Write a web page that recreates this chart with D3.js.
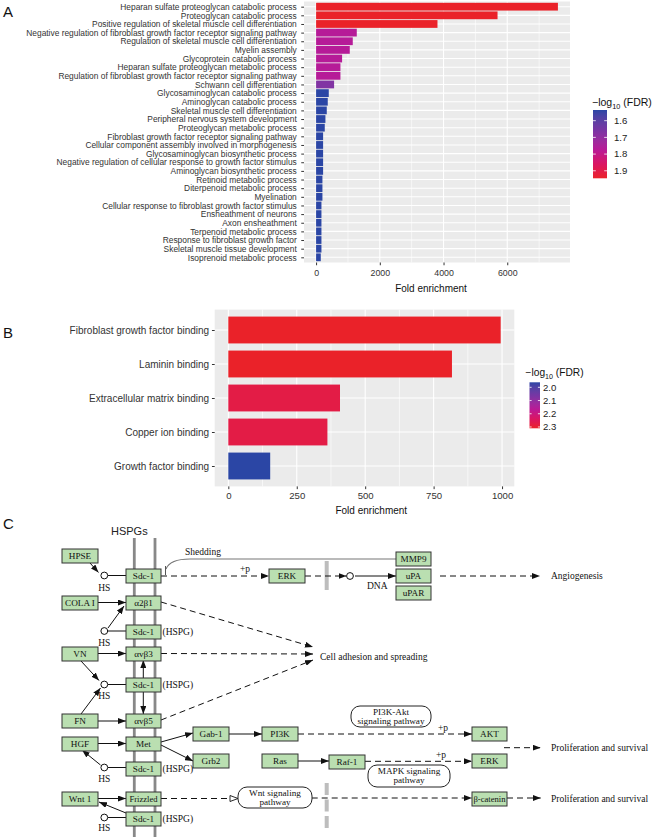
<!DOCTYPE html>
<html><head><meta charset="utf-8">
<script src="https://cdn.jsdelivr.net/npm/d3@7"></script>
<style>body{margin:0;background:#fff}svg{display:block}</style>
</head><body>
<svg id="fig" width="656" height="837"></svg>
<script>
// ---------------- DATA ----------------
const termsA = [
 "Heparan sulfate proteoglycan catabolic process",
 "Proteoglycan catabolic process",
 "Positive regulation of skeletal muscle cell differentiation",
 "Negative regulation of fibroblast growth factor receptor signaling pathway",
 "Regulation of skeletal muscle cell differentiation",
 "Myelin assembly",
 "Glycoprotein catabolic process",
 "Heparan sulfate proteoglycan metabolic process",
 "Regulation of fibroblast growth factor receptor signaling pathway",
 "Schwann cell differentiation",
 "Glycosaminoglycan catabolic process",
 "Aminoglycan catabolic process",
 "Skeletal muscle cell differentiation",
 "Peripheral nervous system development",
 "Proteoglycan metabolic process",
 "Fibroblast growth factor receptor signaling pathway",
 "Cellular component assembly involved in morphogenesis",
 "Glycosaminoglycan biosynthetic process",
 "Negative regulation of cellular response to growth factor stimulus",
 "Aminoglycan biosynthetic process",
 "Retinoid metabolic process",
 "Diterpenoid metabolic process",
 "Myelination",
 "Cellular response to fibroblast growth factor stimulus",
 "Ensheathment of neurons",
 "Axon ensheathment",
 "Terpenoid metabolic process",
 "Response to fibroblast growth factor",
 "Skeletal muscle tissue development",
 "Isoprenoid metabolic process"
];
const foldA = [7590, 5695, 3810, 1277, 1151, 1057, 816, 764, 764, 565,
               398, 366, 335, 293, 272, 220, 220, 220, 220, 220,
               199, 199, 199, 168, 168, 168, 168, 168, 168, 147];
const fdrA = [1.945, 1.945, 1.945, 1.77, 1.77, 1.77, 1.77, 1.77, 1.77, 1.67,
              1.536, 1.536, 1.536, 1.536, 1.536, 1.536, 1.536, 1.536, 1.536, 1.536,
              1.536, 1.536, 1.536, 1.536, 1.536, 1.536, 1.536, 1.536, 1.536, 1.536];
const ticksA = [0, 2000, 4000, 6000];
const minorA = [1000, 3000, 5000, 7000];
const legendTicksA = [1.6, 1.7, 1.8, 1.9];
const fdrRangeA = [1.536, 1.945];

const termsB = ["Fibroblast growth factor binding", "Laminin binding", "Extracellular matrix binding", "Copper ion binding", "Growth factor binding"];
const foldB = [995, 817, 408, 362, 153];
const fdrB = [2.31, 2.31, 2.275, 2.275, 1.962];
const ticksB = [0, 250, 500, 750, 1000];
const minorB = [125, 375, 625, 875];
const legendTicksB = [2.0, 2.1, 2.2, 2.3];
const fdrRangeB = [1.962, 2.31];

// colour ramp stops (blue -> purple -> magenta -> crimson -> red), fraction of legend range
const rampT = [0, 0.3, 0.58, 0.8, 1];
const rampColors = ["#2B46A5", "#7A35A4", "#B81A98", "#DB1560", "#EA2229"];

// ---------------- PATHWAY LAYOUT (panel C) ----------------
const genes = [
 ["HPSE",62,549,36], ["Sdc-1",126,569,35], ["ERK",269,569,36], ["MMP9",396,552,35], ["uPA",396,569,35], ["uPAR",396,586,35],
 ["COLA I",62,596,36], ["α2β1",126,596,35], ["Sdc-1",126,625,35], ["VN",62,647,36], ["αvβ3",126,647,35], ["Sdc-1",126,678,35],
 ["FN",62,714,36], ["αvβ5",126,714,35], ["HGF",62,737,36], ["Met",126,737,35], ["Gab-1",193,727,36], ["PI3K",262,727,36],
 ["Grb2",193,754,36], ["Ras",262,754,36], ["Raf-1",329,755,36], ["AKT",472,727,35], ["ERK",472,754,35], ["Sdc-1",126,762,35],
 ["Wnt 1",62,792,36], ["Frizzled",126,792,35], ["β-catenin",472,792,35], ["Sdc-1",126,812,35]
];
const hspgLabels = [632, 685, 769, 819];
const hsCircles = [[104.3,575.5,587.5],[104.3,631,643],[104.3,684.5,696],[104.3,767.5,779],[104.3,817.5,828]];
const solidArrows = [
 [90,563,98.5,572.5],[98,602.5,126,602.5],[108,628,124,606],[98,653.5,126,653.5],[81,661,99,680.5],
 [143.3,678,143.3,660],[143.3,692,143.3,714],[81,714,100.5,688],[98,721,126,721],[98,743.5,126,743.5],
 [100.5,765,82,750],[161,742,193,733],[161,745,193,761],[229,734,262,734],[298,761,329,761],
 [98,798.5,126,798.5],[126,813,99,802],[355,576,396,576]
];
const dashedArrows = [
 [161,576,269,576],[305,576,346.5,576],[440,576,540,576],[161,602,313,647],[161,653.5,313,654],
 [161,720,313,660],[298,734,472,734],[365,761.3,472,761.3],[504,747.7,540.7,747.7],
 [311.7,798,472,798],[507,798,540.7,798]
];
const plainLines = [[107.6,575.5,126,575.5],[107.6,631,126,631],[107.6,684.5,126,684.5],[107.6,767.5,126,767.5],[107.6,817.5,126,817.5]];
const pathwayMaps = [
 [351,706,80,21,["PI3K-Akt","signaling pathway"]],
 [368,765,82,22,["MAPK signaling","pathway"]],
 [238,787,74,21,["Wnt signaling","pathway"]]
];
const freeTexts = [
 ["+p",245,572],["+p",443,731],["+p",441,758],["DNA",367,589],["Angiogenesis",551,579],
 ["Cell adhesion and spreading",320,659.5],["Proliferation and survival",551,751],["Proliferation and survival",551,801.5],
 ["Shedding",185,555]
];

// ---------------- DRAW ----------------
const svg = d3.select("#fig");
const SANS = "'Liberation Sans', Arial, Helvetica, sans-serif";
const SERIF = "'Liberation Serif', 'Times New Roman', serif";
svg.append("rect").attr("width",656).attr("height",837).attr("fill","#fff");

[["A",3,17],["B",3,338],["C",3,529]].forEach(([t,x,y])=>{
  svg.append("text").attr("x",x).attr("y",y).text(t).attr("font-family",SANS).attr("font-size",15).attr("fill","#111");
});

function makeColor(range){
  return d3.scaleLinear().domain(rampT.map(t=>range[0]+t*(range[1]-range[0]))).range(rampColors)
    .interpolate(d3.interpolateLab).clamp(true);
}

function barPanel(cfg){
  const g = svg.append("g");
  const {terms, fold, fdr, xr, yr, ticks, minor, maxV, color, labelSize, tickSize, barFrac, xTickPad, titleY} = cfg;
  const x = d3.scaleLinear().domain([-0.05*maxV, 1.05*maxV]).range(xr);
  const y = d3.scalePoint().domain(terms).range(yr).padding(0.6);
  const step = y.step();
  g.append("rect").attr("x",xr[0]).attr("y",yr[0]).attr("width",xr[1]-xr[0]).attr("height",yr[1]-yr[0]).attr("fill","#EBEBEB");
  g.selectAll(".mn").data(minor).join("line").attr("x1",d=>x(d)).attr("x2",d=>x(d)).attr("y1",yr[0]).attr("y2",yr[1]).attr("stroke","#fff").attr("stroke-width",0.6);
  g.selectAll(".mj").data(ticks).join("line").attr("x1",d=>x(d)).attr("x2",d=>x(d)).attr("y1",yr[0]).attr("y2",yr[1]).attr("stroke","#fff").attr("stroke-width",1.1);
  g.selectAll(".hg").data(terms).join("line").attr("x1",xr[0]).attr("x2",xr[1]).attr("y1",d=>y(d)).attr("y2",d=>y(d)).attr("stroke","#fff").attr("stroke-width",1.1);
  const bh = step*barFrac;
  g.selectAll(".bar").data(terms).join("rect")
    .attr("x",x(0)).attr("y",d=>y(d)-bh/2).attr("height",bh)
    .attr("width",(d,i)=>x(fold[i])-x(0)).attr("fill",(d,i)=>color(fdr[i]));
  const ax = g.append("g").attr("transform",`translate(${xr[0]},0)`)
    .call(d3.axisLeft(y).tickSize(2.75).tickPadding(cfg.yTickPad));
  ax.select(".domain").remove();
  ax.selectAll("line").attr("stroke","#333");
  ax.selectAll("text").attr("font-family",SANS).attr("font-size",labelSize).attr("fill","#333");
  const bx = g.append("g").attr("transform",`translate(0,${yr[1]})`)
    .call(d3.axisBottom(x).tickValues(ticks).tickSize(2.75).tickPadding(xTickPad).tickFormat(d3.format("d")));
  bx.select(".domain").remove();
  bx.selectAll("line").attr("stroke","#333");
  bx.selectAll("text").attr("font-family",SANS).attr("font-size",tickSize).attr("fill","#333");
  g.append("text").attr("x",(x(0)+xr[1])/2 + cfg.titleDx).attr("y",titleY).attr("text-anchor","middle")
    .attr("font-family",SANS).attr("font-size",10).attr("fill","#111").text("Fold enrichment");
}

function legend(cfg){
  const {id, range, ticks, x0, w, y0, y1, color, titleX, titleY, labX, fs} = cfg;
  const defs = svg.append("defs");
  const grad = defs.append("linearGradient").attr("id",id).attr("x1",0).attr("x2",0).attr("y1",0).attr("y2",1);
  d3.range(0,1.0001,0.05).forEach(t=>{
    grad.append("stop").attr("offset",t).attr("stop-color",color(range[0]+t*(range[1]-range[0])));
  });
  const ly = d3.scaleLinear().domain(range).range([y0,y1]);
  svg.append("rect").attr("x",x0).attr("y",y0).attr("width",w).attr("height",y1-y0).attr("fill",`url(#${id})`);
  ticks.forEach(t=>{
    svg.append("line").attr("x1",x0).attr("x2",x0+w*0.2).attr("y1",ly(t)).attr("y2",ly(t)).attr("stroke","#fff").attr("stroke-width",0.8);
    svg.append("line").attr("x1",x0+w*0.8).attr("x2",x0+w).attr("y1",ly(t)).attr("y2",ly(t)).attr("stroke","#fff").attr("stroke-width",0.8);
    svg.append("text").attr("x",labX).attr("y",ly(t)+3.4).attr("font-family",SANS).attr("font-size",fs).attr("fill","#222").text(t.toFixed(1));
  });
  const tt = svg.append("text").attr("x",titleX).attr("y",titleY).attr("font-family",SANS).attr("font-size",cfg.tfs).attr("fill","#111");
  tt.append("tspan").text("\u2212log");
  tt.append("tspan").attr("font-size",cfg.tfs*0.7).attr("dy",2.5).text("10");
  tt.append("tspan").attr("dy",-2.5).text(" (FDR)");
}

const colorA = makeColor(fdrRangeA);
const colorB = makeColor(fdrRangeB);

barPanel({terms:termsA, fold:foldA, fdr:fdrA, xr:[304,570], yr:[1.5,262.5], ticks:ticksA, minor:minorA,
  maxV:d3.max(foldA), color:colorA, labelSize:8.4, tickSize:8.8, barFrac:0.9, xTickPad:5, yTickPad:4.5, titleY:291.5, titleDx:-12});
legend({id:"gA", range:fdrRangeA, ticks:legendTicksA, x0:593, w:14, y0:110, y1:178.3, color:colorA, titleX:592, titleY:106, labX:614, fs:9.6, tfs:10.5});

barPanel({terms:termsB, fold:foldB, fdr:fdrB, xr:[214.7,514.3], yr:[309.6,486.4], ticks:ticksB, minor:minorB,
  maxV:d3.max(foldB), color:colorB, labelSize:10, tickSize:9.6, barFrac:0.79, xTickPad:3.5, yTickPad:2.8, titleY:513.6, titleDx:0});
legend({id:"gB", range:fdrRangeB, ticks:legendTicksB, x0:529.5, w:10.5, y0:382.3, y1:428.3, color:colorB, titleX:525.5, titleY:376, labX:543, fs:9.6, tfs:10.2});

// ---------------- PANEL C ----------------
const C = svg.append("g");
const defs = svg.append("defs");
defs.append("marker").attr("id","ah").attr("viewBox","0 0 8 6").attr("refX",8).attr("refY",3)
  .attr("markerWidth",8).attr("markerHeight",6).attr("markerUnits","userSpaceOnUse").attr("orient","auto")
  .append("path").attr("d","M0,0 L8,3 L0,6 Z").attr("fill","#111");
defs.append("marker").attr("id","ahOpen").attr("viewBox","-1 -1 10 8").attr("refX",8).attr("refY",3)
  .attr("markerWidth",10).attr("markerHeight",8).attr("markerUnits","userSpaceOnUse").attr("orient","auto")
  .append("path").attr("d","M0,0 L8,3 L0,6 Z").attr("fill","#fff").attr("stroke","#111").attr("stroke-width",0.9);

C.append("text").attr("x",111).attr("y",535).attr("font-family",SANS).attr("font-size",11).attr("fill","#222").text("HSPGs");
[134.3,155].forEach(xx=>C.append("line").attr("x1",xx).attr("x2",xx).attr("y1",538).attr("y2",837).attr("stroke","#888").attr("stroke-width",2.8));

C.append("line").attr("x1",326.7).attr("x2",326.7).attr("y1",561).attr("y2",590).attr("stroke","#BDBDBD").attr("stroke-width",4);
C.append("line").attr("x1",326.7).attr("x2",326.7).attr("y1",783).attr("y2",829).attr("stroke","#BDBDBD").attr("stroke-width",4).attr("stroke-dasharray","12,4.5");

C.append("path").attr("d","M166,569 Q170,559 190,559 L396,559").attr("fill","none").attr("stroke","#777").attr("stroke-width",1.2);
C.append("line").attr("x1",165.5).attr("x2",165.5).attr("y1",566).attr("y2",575).attr("stroke","#555").attr("stroke-width",1);

C.selectAll(".pl").data(plainLines).join("line").attr("x1",d=>d[0]).attr("y1",d=>d[1]).attr("x2",d=>d[2]).attr("y2",d=>d[3]).attr("stroke","#111").attr("stroke-width",1);
C.selectAll(".sa").data(solidArrows).join("line").attr("x1",d=>d[0]).attr("y1",d=>d[1]).attr("x2",d=>d[2]).attr("y2",d=>d[3])
  .attr("stroke","#111").attr("stroke-width",1).attr("marker-end","url(#ah)");
C.selectAll(".da").data(dashedArrows).join("line").attr("x1",d=>d[0]).attr("y1",d=>d[1]).attr("x2",d=>d[2]).attr("y2",d=>d[3])
  .attr("stroke","#111").attr("stroke-width",1).attr("stroke-dasharray","6,4").attr("marker-end","url(#ah)");
C.append("line").attr("x1",161).attr("y1",798.5).attr("x2",238).attr("y2",798.5).attr("stroke","#111").attr("stroke-width",1)
  .attr("stroke-dasharray","6,4").attr("marker-end","url(#ahOpen)");

C.selectAll(".hs").data(hsCircles).join("circle").attr("cx",d=>d[0]).attr("cy",d=>d[1]).attr("r",3.4).attr("fill","#fff").attr("stroke","#111");
C.selectAll(".hst").data(hsCircles).join("text").attr("x",d=>d[0]).attr("y",d=>d[2]+3).attr("text-anchor","middle")
  .attr("font-family",SERIF).attr("font-size",9.5).attr("fill","#111").text("HS");
C.append("circle").attr("cx",350).attr("cy",576).attr("r",3.4).attr("fill","#fff").attr("stroke","#111");

const gb = C.selectAll(".gene").data(genes).join("g");
gb.append("rect").attr("x",d=>d[1]).attr("y",d=>d[2]).attr("width",d=>d[3]).attr("height",14)
  .attr("fill","#BADFB1").attr("stroke","#333").attr("stroke-width",1);
gb.append("text").attr("x",d=>d[1]+d[3]/2).attr("y",d=>d[2]+10.3).attr("text-anchor","middle")
  .attr("font-family",SERIF).attr("font-size",d=>d[0].length>7?8.6:9.2).attr("fill","#111").text(d=>d[0]);
C.selectAll(".hspg").data(hspgLabels).join("text").attr("x",162.5).attr("y",d=>d+3.3)
  .attr("font-family",SERIF).attr("font-size",9.5).attr("fill","#111").text("(HSPG)");

const pm = C.selectAll(".pm").data(pathwayMaps).join("g");
pm.append("rect").attr("x",d=>d[0]).attr("y",d=>d[1]).attr("width",d=>d[2]).attr("height",d=>d[3]).attr("rx",9).attr("ry",9)
  .attr("fill","#fff").attr("stroke","#222");
pm.each(function(d){
  const s = d3.select(this);
  d[4].forEach((t,i)=>s.append("text").attr("x",d[0]+d[2]/2).attr("y",d[1]+9+i*9).attr("text-anchor","middle")
    .attr("font-family",SERIF).attr("font-size",9.2).attr("fill","#111").text(t));
});

C.selectAll(".ft").data(freeTexts).join("text").attr("x",d=>d[1]).attr("y",d=>d[2])
  .attr("text-anchor",d=>d[0]==="+p"?"middle":"start")
  .attr("font-family",SERIF).attr("font-size",9.5).attr("fill","#111").text(d=>d[0]);
</script>
</body></html>
